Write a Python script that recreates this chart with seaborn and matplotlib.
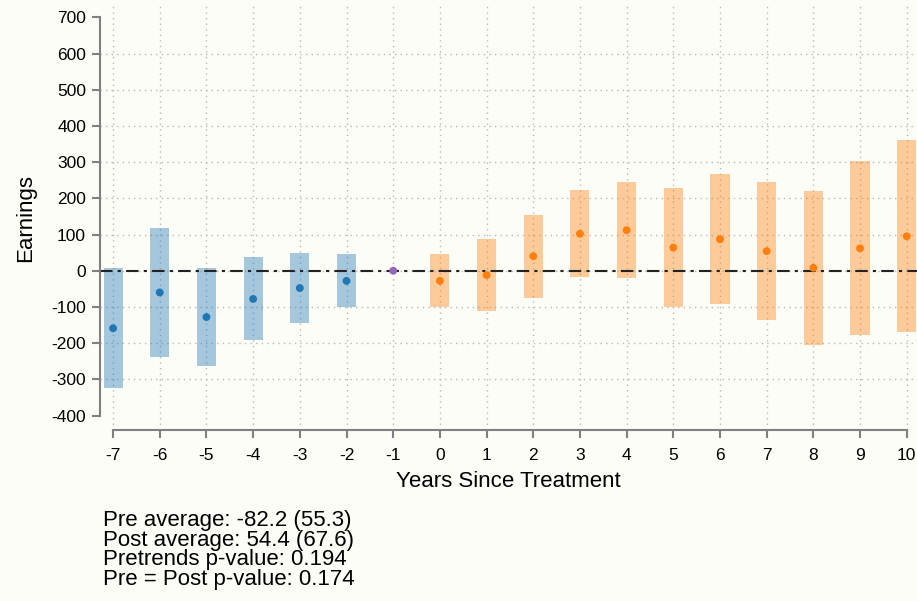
import numpy as np
import pandas as pd
import matplotlib
matplotlib.use("Agg")
import matplotlib.pyplot as plt
import seaborn as sns

# Event-study estimates
years = [-7, -6, -5, -4, -3, -2, -1, 0, 1, 2, 3, 4, 5, 6, 7, 8, 9, 10]
estimate = [-159, -60, -128, -78, -48, -28, 0, -28, -12, 40, 102, 112, 64, 87, 54, 8, 62, 95]
ci_low = [-324, -238, -263, -192, -144, -101, 0, -100, -110, -75, -18, -20, -101, -92, -135, -204, -178, -168]
ci_high = [8, 119, 8, 38, 49, 47, 0, 45, 88, 154, 223, 246, 229, 267, 245, 219, 303, 361]

y_ticks = [-400, -300, -200, -100, 0, 100, 200, 300, 400, 500, 600, 700]
summary_lines = [
    "Pre average: -82.2 (55.3)",
    "Post average: 54.4 (67.6)",
    "Pretrends p-value: 0.194",
    "Pre = Post p-value: 0.174",
]

df = pd.DataFrame({"year": years, "est": estimate, "lo": ci_low, "hi": ci_high})
df["period"] = np.where(df["year"] < -1, "pre", np.where(df["year"] == -1, "ref", "post"))

bg = "#fdfdf8"
sns.set_style("white")
plt.rcParams["font.family"] = ["Liberation Sans", "DejaVu Sans"]
plt.rcParams["text.color"] = "black"
plt.rcParams["axes.labelcolor"] = "black"

fig = plt.figure(figsize=(9.17, 6.01), dpi=100, facecolor=bg)
ax = fig.add_axes([100 / 917, 1 - 430 / 601, 817 / 917, 425 / 601])
ax.set_facecolor(bg)

# grid (Stata-style: no lines at axis extremes for y)
for v in y_ticks[1:-1]:
    ax.axhline(v, color="#b8b8b8", lw=1, ls=(0, (1, 3)), zorder=0)
for x in years:
    ax.axvline(x, color="#b8b8b8", lw=1, ls=(0, (1, 3)), zorder=0)

# confidence bands
fills = {"pre": "tab:blue", "post": "tab:orange"}
for period, color in fills.items():
    sub = df[df["period"] == period]
    ax.bar(sub["year"], sub["hi"] - sub["lo"], bottom=sub["lo"], width=0.41,
           color=color, alpha=0.4, linewidth=0, zorder=1)

ax.axhline(0, color="#222222", lw=1.5, ls=(0, (6, 2.5, 1.5, 2.5)), zorder=2)

sns.scatterplot(data=df, x="year", y="est", hue="period",
                palette={"pre": "#1f77b4", "ref": "#9467bd", "post": "#ff7f0e"},
                s=32, linewidth=0, legend=False, ax=ax, zorder=3)

ax.set_xlim(-7.28, 10.22)
ax.set_ylim(-440, 734)
ax.set_xticks(years)
ax.set_xticklabels([str(y) for y in years])
ax.set_yticks(y_ticks)
ax.set_yticklabels([str(v) for v in y_ticks])

for side in ["top", "right"]:
    ax.spines[side].set_visible(False)
for side in ["left", "bottom"]:
    ax.spines[side].set_color("#808080")
    ax.spines[side].set_linewidth(1.5)
ax.spines["left"].set_bounds(-400, 700)
ax.spines["bottom"].set_bounds(-7, 10)

ax.tick_params(axis="both", which="major", direction="out", length=6, width=1.5,
               color="#808080", labelsize=12.5, labelcolor="black", pad=4,
               left=True, bottom=True)
ax.tick_params(axis="x", pad=7)

ax.set_xlabel("Years Since Treatment", fontsize=16, labelpad=6)
ax.set_ylabel("Earnings", fontsize=16, labelpad=11)

fig.text(103 / 917, 1 - 510 / 601, "\n".join(summary_lines), fontsize=16,
         va="top", ha="left", linespacing=0.92, color="black")

fig.savefig("out.png", dpi=100, facecolor=bg)
